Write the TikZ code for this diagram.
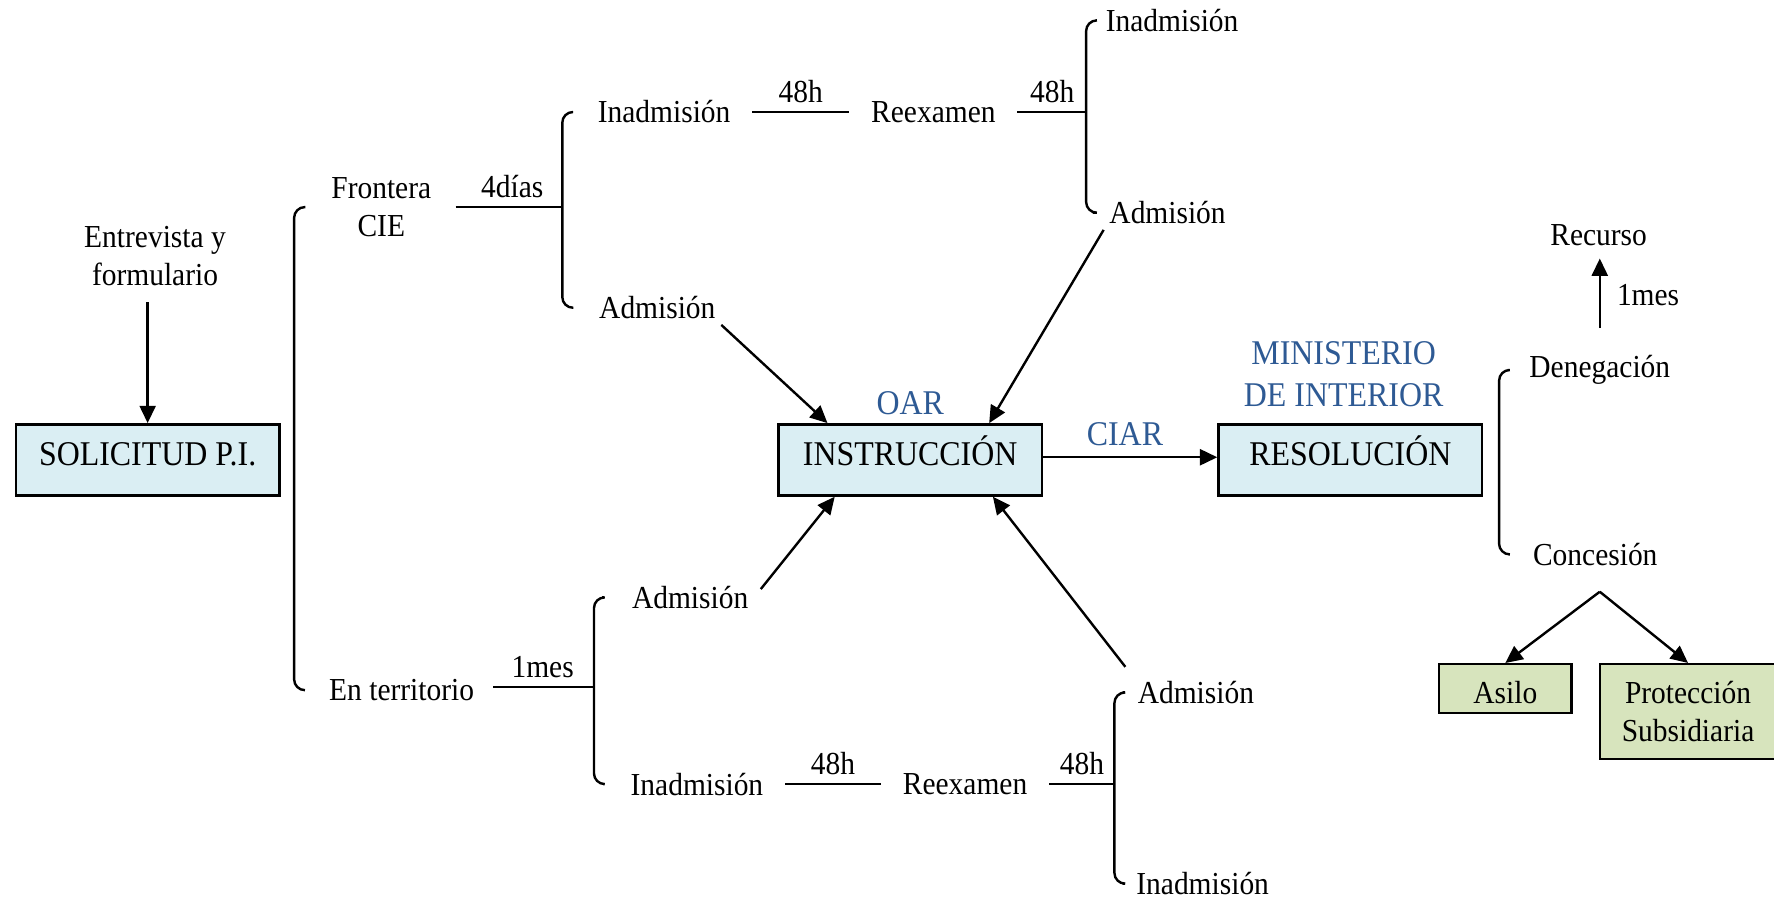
\documentclass[tikz,border=0pt]{standalone}
\usepackage{fontspec}
\setmainfont{Liberation Serif}[FakeStretch=0.92]
\usetikzlibrary{arrows.meta,positioning}

\definecolor{stageblue}{HTML}{DAEEF3}
\definecolor{outcomegreen}{HTML}{D7E4BD}
\definecolor{orgblue}{HTML}{2E5A94}

\tikzset{
  lbl/.style={font=\fontsize{12}{14.25}\selectfont, inner sep=2pt, align=center},
  hdr/.style={font=\fontsize{13}{15.7}\selectfont, text=orgblue, inner sep=3pt, align=center},
  stagebox/.style={draw, line width=0.9pt, fill=stageblue, font=\fontsize{13}{15}\selectfont,
    minimum width=98.8pt, minimum height=26.7pt, inner sep=2pt, text height=9pt, text depth=5pt},
  outcomebox/.style={draw, line width=0.9pt, fill=outcomegreen, font=\fontsize{12}{14.25}\selectfont,
    align=center, inner sep=2pt},
  link/.style={line width=0.9pt},
  flow/.style={line width=0.9pt, -{Triangle[length=6.5pt,width=6pt]}},
  brace/.style={line width=0.9pt, rounded corners=4pt},
}

\begin{document}
\begin{tikzpicture}[x=0.424pt, y=-0.424pt]
\useasboundingbox (0,0) rectangle (1568,794);

% solicitud
\node[lbl] (entrevista) at (137,226) {Entrevista y\\formulario};
\node[stagebox] (solicitud) at (130.5,406.5) {SOLICITUD P.I.};
\draw[flow, shorten <=4pt] (entrevista.south -| solicitud.north) -- (solicitud.north);

% the two routes
\node[lbl] (frontera) at (337,183) {Frontera\\CIE};
\node[lbl] (territorio) at (355,610) {En territorio};
\coordinate (spine0) at (260,400);
\draw[brace] ([xshift=-7.5pt]frontera.west) -| (spine0) |- ([xshift=-7pt]territorio.west);

% border route
\coordinate (fJoin) at (497,183);
\draw[link, shorten <=7pt] (frontera) -- node[lbl, above=1pt, pos=0.6] (fDays) {4días} (fJoin);
\node[lbl] (fInad) at (587,99) {Inadmisión};
\node[lbl] (fAdm) at (581,272) {Admisión};
\draw[brace] ([xshift=-7.5pt]fInad.west) -| (fJoin) |- ([xshift=-7.5pt]fAdm.west);
\node[lbl] (fReex) at (825,99) {Reexamen};
\draw[link, shorten <=6pt, shorten >=6pt] (fInad) -- node[lbl, above=1pt] (fH1) {48h} (fReex);
\coordinate (fJoin2) at (960,99);
\draw[link, shorten <=6pt] (fReex) -- node[lbl, above=1pt, pos=0.6] (fH2) {48h} (fJoin2);
\node[lbl] (fInadB) at (1036,18) {Inadmisión};
\node[lbl] (fAdmB) at (1032,188) {Admisión};
\draw[brace] ([xshift=-1.5pt]fInadB.west) -| (fJoin2) |- ([xshift=-4pt]fAdmB.west);

% instruccion
\node[stagebox] (instruccion) at (804.5,406.5) {INSTRUCCIÓN};
\node[hdr, above=0pt of instruccion] (oar) {OAR};
\draw[flow] (fAdm.south east) -- (instruccion.156);
\draw[flow] (fAdmB.south west) -- (instruccion.25);

% territory route
\coordinate (tJoin) at (525,607);
\draw[link, shorten <=5pt] (territorio.east |- tJoin) -- node[lbl, above=1pt, pos=0.55] (tMonth) {1mes} (tJoin);
\node[lbl] (tAdm) at (610,528) {Admisión};
\node[lbl] (tInad) at (616,693) {Inadmisión};
\draw[brace] ([xshift=-9pt]tAdm.west) -| (tJoin) |- ([xshift=-8pt]tInad.west);
\node[lbl] (tReex) at (853,693) {Reexamen};
\draw[link, shorten <=6pt, shorten >=6pt] (tInad) -- node[lbl, above=1pt] (tH1) {48h} (tReex);
\coordinate (tJoin2) at (985,693);
\draw[link, shorten <=6pt] (tReex) -- node[lbl, above=1pt, pos=0.6] (tH2) {48h} (tJoin2);
\node[lbl] (tAdmB) at (1057,612) {Admisión};
\node[lbl] (tInadB) at (1063,781) {Inadmisión};
\draw[brace] ([xshift=-3.5pt]tAdmB.west) -| (tJoin2) |- ([xshift=-3pt]tInadB.west);
\draw[flow, shorten <=4pt] (tAdm.east) -- (instruccion.206);
\draw[flow, shorten <=4pt] (tAdmB.north west) -- (instruccion.336);

% resolucion
\node[stagebox] (resolucion) at (1193.5,406.5) {RESOLUCIÓN};
\node[hdr, above=3pt of resolucion, xshift=-2.5pt] (ministerio) {MINISTERIO\\DE INTERIOR};
\draw[flow] ([yshift=1pt]instruccion.east) -- node[hdr, above=1pt, xshift=-2pt] (ciar) {CIAR} ([yshift=1pt]resolucion.west);

\node[lbl] (denegacion) at (1414,327) {Denegación};
\node[lbl] (concesion) at (1410,490) {Concesión};
\coordinate (dSpine) at (1325,405);
\draw[brace] ([xshift=-6pt]denegacion.west) -| (dSpine) |- ([xshift=-7pt]concesion.west);
\node[lbl] (recurso) at (1413,208) {Recurso};
\draw[flow, shorten <=8pt, shorten >=2.5pt] (denegacion.north) -- node[lbl, right=4pt, yshift=2pt] (dMonth) {1mes} (denegacion.north |- recurso.south);

\coordinate (split) at (1414,523);
\node[outcomebox, minimum width=49.6pt, minimum height=18.2pt, text height=11pt, text depth=0pt] (asilo) at (1330.5,608.5) {Asilo};
\node[outcomebox, minimum width=66.1pt, minimum height=35.6pt] (proteccion) at (1492,629) {Protección\\Subsidiaria};
\draw[flow] (split) -- (asilo.north);
\draw[flow] (split) -- (proteccion.north);
\end{tikzpicture}
\end{document}
